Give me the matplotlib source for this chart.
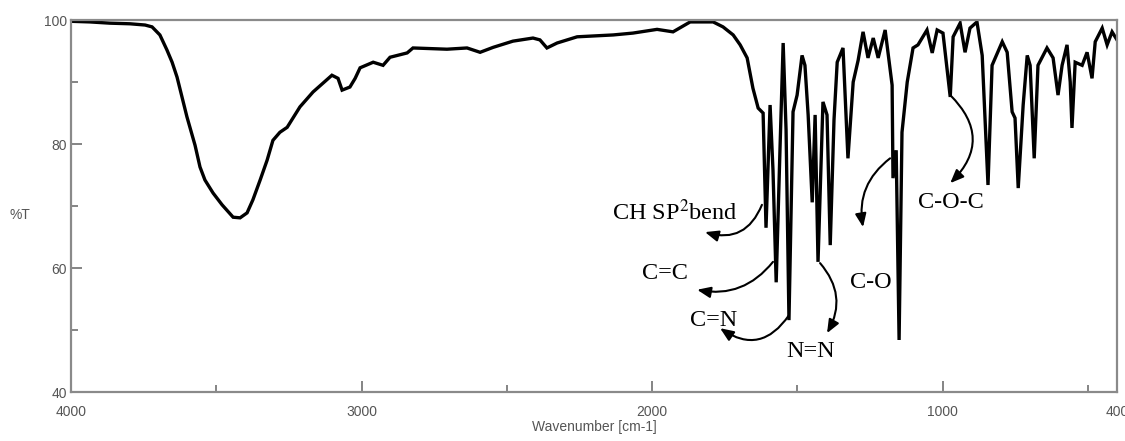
import numpy as np
import matplotlib.pyplot as plt
from matplotlib.ticker import FixedLocator

plt.rcParams['font.family'] = 'sans-serif'
plt.rcParams['font.sans-serif'] = ['Liberation Sans', 'DejaVu Sans']
plt.rcParams['mathtext.fontset'] = 'stix'

# IR spectrum: wavenumber (cm-1) and transmittance (%T)
wavenumber = [
    4000, 3935, 3866, 3797, 3745, 3721, 3694, 3670, 3652, 3635, 3601, 3573,
    3556, 3539, 3511, 3480, 3442, 3418, 3394, 3374, 3349, 3325, 3305, 3281,
    3256, 3212, 3167, 3102, 3081, 3067, 3040, 3022, 3005, 2960, 2926, 2902,
    2843, 2823, 2706, 2637, 2592, 2547, 2479, 2410, 2386, 2362, 2327, 2258,
    2134, 2066, 1983, 1928, 1869, 1790, 1756, 1721, 1697, 1673, 1653, 1635,
    1618, 1608, 1594, 1584, 1573, 1560, 1549, 1539, 1529, 1515, 1501, 1484,
    1474, 1463, 1449, 1439, 1429, 1412, 1398, 1387, 1374, 1363, 1343, 1326,
    1308, 1291, 1274, 1257, 1239, 1222, 1198, 1174, 1171, 1160, 1150, 1140,
    1122, 1102, 1085, 1054, 1036, 1019, 999, 974, 964, 940, 923, 906,
    882, 864, 844, 830, 795, 778, 761, 751, 740, 723, 709, 699,
    685, 672, 641, 620, 603, 589, 572, 561, 555, 544, 520, 503,
    486, 475, 451, 434, 417, 400,
]
transmittance = [
    99.8, 99.7, 99.5, 99.4, 99.2, 98.9, 97.6, 95.2, 93.2, 90.8, 84.4, 79.8,
    76.3, 74.2, 72.1, 70.2, 68.2, 68.1, 68.9, 71.0, 74.2, 77.4, 80.6, 81.9,
    82.7, 86.0, 88.4, 91.1, 90.6, 88.7, 89.2, 90.6, 92.3, 93.2, 92.7, 94.0,
    94.7, 95.5, 95.3, 95.5, 94.8, 95.6, 96.6, 97.1, 96.8, 95.5, 96.3, 97.3,
    97.6, 97.9, 98.5, 98.1, 99.7, 99.7, 98.9, 97.6, 96.0, 93.9, 89.0, 85.8,
    85.0, 66.5, 86.3, 75.8, 57.7, 79.0, 96.3, 82.3, 51.6, 85.2, 87.9, 94.3,
    92.7, 84.7, 70.6, 84.7, 61.0, 86.8, 84.7, 63.7, 83.9, 93.2, 95.5, 77.7,
    90.0, 93.5, 98.1, 93.9, 97.1, 93.9, 98.4, 89.5, 74.5, 79.0, 48.4, 81.9,
    90.0, 95.5, 96.0, 98.4, 94.7, 98.4, 97.9, 87.6, 97.3, 99.5, 94.8, 98.7,
    99.7, 94.3, 73.4, 92.7, 96.5, 94.8, 85.2, 84.2, 72.9, 86.3, 94.3, 92.7,
    77.7, 92.7, 95.5, 93.9, 87.9, 92.7, 96.0, 90.0, 82.6, 93.2, 92.7, 94.8,
    90.6, 96.5, 98.7, 96.0, 98.1, 96.8,
]

# band labels: text, text position, arrow start, arrow head, curvature
labels = ["CH SP$^{2}$bend", "C=C", "C=N", "N=N", "C-O", "C-O-C"]
label_pos = [(1921, 68.9), (1955, 59.2), (1790, 51.6), (1456, 46.5), (1246, 57.7), (971, 70.5)]
arrow_from = [(1622, 70.2), (1584, 61.0), (1529, 52.4), (1422, 60.8), (1181, 77.7), (974, 87.9)]
arrow_to = [(1818, 65.8), (1845, 56.5), (1766, 50.3), (1398, 49.5), (1274, 66.6), (974, 73.7)]
arrow_rad = [-0.45, -0.3, -0.5, -0.35, 0.3, -0.5]

fig = plt.figure(figsize=(11.25, 4.41), dpi=100)
ax = fig.add_axes([0.0631, 0.111, 0.9298, 0.8435])

ax.plot(wavenumber, transmittance, color='black', lw=2.4, solid_joinstyle='miter')

ax.set_xlim(4000, 400)
ax.set_ylim(40, 100)

gray = '#707070'
for s in ax.spines.values():
    s.set_color('#8a8a8a')
    s.set_linewidth(1.6)

ax.set_xticks([4000, 3000, 2000, 1000, 400])
ax.set_xticklabels(['4000', '3000', '2000', '1000', '400'])
ax.xaxis.set_minor_locator(FixedLocator([3500, 2500, 1500, 500]))
ax.set_yticks([40, 60, 80, 100])
ax.yaxis.set_minor_locator(FixedLocator([50, 70, 90]))
ax.tick_params(which='major', direction='in', length=8, width=1.2, color=gray,
               labelcolor='#555555', labelsize=10)
ax.tick_params(which='minor', direction='in', length=5, width=1.2, color=gray)
ax.tick_params(axis='x', which='major', pad=9)
ax.tick_params(axis='y', which='major', pad=3)

ax.set_xlabel('Wavenumber [cm-1]', color='#555555', fontsize=10, labelpad=1)
ax.text(-0.049, 0.476, '%T', transform=ax.transAxes, color='#555555', fontsize=10,
        ha='center', va='center')

for txt, pos, a, b, r in zip(labels, label_pos, arrow_from, arrow_to, arrow_rad):
    ax.text(pos[0], pos[1], txt, family='Liberation Serif', fontsize=17.5,
            ha='center', va='center', color='black')
    ax.annotate('', xy=b, xytext=a,
                arrowprops=dict(arrowstyle='-|>,head_length=0.8,head_width=0.33', color='black',
                                lw=1.5, shrinkA=0, shrinkB=0,
                                connectionstyle=f'arc3,rad={r}'))

fig.savefig('out.png', dpi=100)
